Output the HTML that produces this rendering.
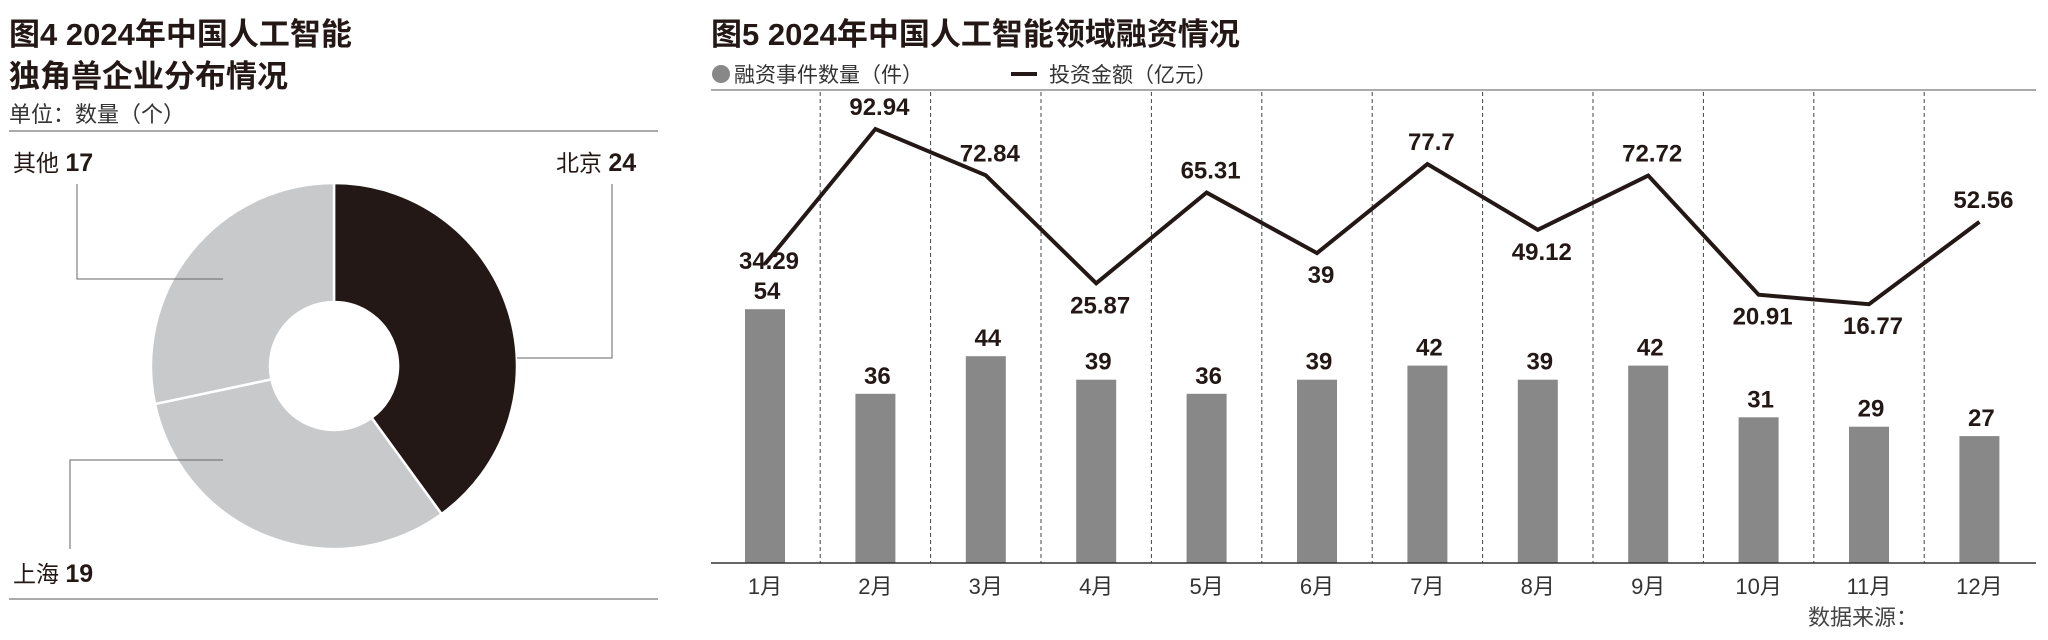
<!DOCTYPE html>
<html><head><meta charset="utf-8">
<style>
html,body{margin:0;padding:0;background:#fff;width:2048px;height:640px;overflow:hidden}
svg{display:block}
.cjk{font-family:"Liberation Sans","Noto Sans CJK SC",sans-serif}
.num{font-family:"Liberation Sans Narrow","Liberation Sans","Noto Sans CJK SC",sans-serif;font-weight:bold}
</style></head>
<body>
<svg id="svg" width="2048" height="640" viewBox="0 0 2048 640" xmlns="http://www.w3.org/2000/svg">
  <g>
    <text class="cjk" x="9" y="45" font-size="31" font-weight="bold" fill="#231815">图4 2024年中国人工智能</text>
    <text class="cjk" x="9" y="87" font-size="31" font-weight="bold" fill="#231815">独角兽企业分布情况</text>
    <text class="cjk" x="9" y="122" font-size="22" fill="#333">单位：数量（个）</text>
    <line x1="9" y1="131" x2="658" y2="131" stroke="#777" stroke-width="1.2"/>
    <line x1="9" y1="599" x2="658" y2="599" stroke="#777" stroke-width="1.2"/>
    <g id="donut"></g>
    <polyline points="517,358 612,358 612,184" fill="none" stroke="#666" stroke-width="1"/>
    <polyline points="223,279 77,279 77,184" fill="none" stroke="#666" stroke-width="1"/>
    <polyline points="223,460 70,460 70,549" fill="none" stroke="#666" stroke-width="1"/>
    <text x="556" y="171" font-size="23" fill="#231815"><tspan class="cjk">北京 </tspan><tspan class="num" font-size="25">24</tspan></text>
    <text x="13" y="171" font-size="23" fill="#231815"><tspan class="cjk">其他 </tspan><tspan class="num" font-size="25">17</tspan></text>
    <text x="13" y="582" font-size="23" fill="#231815"><tspan class="cjk">上海 </tspan><tspan class="num" font-size="25">19</tspan></text>
  </g>
  <g>
    <text class="cjk" x="711" y="45" font-size="31" font-weight="bold" fill="#231815">图5 2024年中国人工智能领域融资情况</text>
    <circle cx="721" cy="74" r="9" fill="#888"/>
    <text class="cjk" x="734" y="82" font-size="21" fill="#333">融资事件数量（件）</text>
    <line x1="1011" y1="74" x2="1037" y2="74" stroke="#231815" stroke-width="4"/>
    <text class="cjk" x="1049" y="82" font-size="21" fill="#333">投资金额（亿元）</text>
    <line x1="711" y1="90" x2="2036" y2="90" stroke="#777" stroke-width="1.2"/>
    <g id="chart"></g>
    <text class="cjk" x="1808" y="625" font-size="22" fill="#444">数据来源：</text>
  </g>
</svg>
<script>
const NS="http://www.w3.org/2000/svg";
// donut data
const donutLabels=["北京","上海","其他"];
const donutValues=[24,19,17];
// combo data
const months=["1月","2月","3月","4月","5月","6月","7月","8月","9月","10月","11月","12月"];
const dealCounts=[54,36,44,39,36,39,42,39,42,31,29,27];
const investAmounts=[34.29,92.94,72.84,25.87,65.31,39,77.7,49.12,72.72,20.91,16.77,52.56];
const amountLabels=["34.29","92.94","72.84","25.87","65.31","39","77.7","49.12","72.72","20.91","16.77","52.56"];
const labelAbove=[false,true,true,false,true,false,true,false,true,false,false,true];

function mk(tag,attrs,parent){const e=document.createElementNS(NS,tag);for(const k in attrs)e.setAttribute(k,attrs[k]);parent.appendChild(e);return e;}

(function(){
  const g=document.getElementById('donut');
  const cx=334,cy=366,R=183,r=64;
  const total=donutValues.reduce((a,b)=>a+b,0);
  const colors=["#231815","#c8c9cb","#c8c9cb"];
  let a0=-Math.PI/2;
  donutValues.forEach((v,i)=>{
    const a1=a0+v/total*Math.PI*2;
    const big=(a1-a0)>Math.PI?1:0;
    const p=(rad,a)=>[cx+rad*Math.cos(a),cy+rad*Math.sin(a)];
    const [x0,y0]=p(R,a0),[x1,y1]=p(R,a1),[x2,y2]=p(r,a1),[x3,y3]=p(r,a0);
    const d=`M${x0},${y0}A${R},${R} 0 ${big} 1 ${x1},${y1}L${x2},${y2}A${r},${r} 0 ${big} 0 ${x3},${y3}Z`;
    const el=mk('path',{d:d,fill:colors[i],stroke:"#fff","stroke-width":2.5},g);
    
    
    a0=a1;
  });
})();

(function(){
  const g=document.getElementById('chart');
  const x0=765,step=110.4,baseY=563,barW=40;
  const xAt=i=>x0+i*step;
  const yBar=v=>baseY-v*4.7;
  const yLine=v=>342.8-v*2.3;
  for(let i=0;i<months.length-1;i++){
    const x=xAt(i)+step/2;
    const l=mk('line',{x1:x,y1:92,x2:x,y2:563,stroke:"#444","stroke-width":1,"stroke-dasharray":"4,3"},g);
    
    
  }
  dealCounts.forEach((v,i)=>{
    const b=mk('rect',{x:xAt(i)-barW/2,y:yBar(v),width:barW,height:baseY-yBar(v),fill:"#888"},g);
    
    
    const t=mk('text',{x:xAt(i)+2,y:yBar(v)-10,"text-anchor":"middle","font-size":24,fill:"#231815",class:"num"},g);
    t.textContent=v;
    
    
  });
  const axis=mk('line',{x1:711,y1:baseY,x2:2036,y2:baseY,stroke:"#333","stroke-width":1.5},g);
  
  
  months.forEach((m,i)=>{
    const t=mk('text',{x:xAt(i),y:594,"text-anchor":"middle","font-size":22,fill:"#333",class:"cjk"},g);
    t.textContent=m;
    
    
  });
  const pts=investAmounts.map((v,i)=>xAt(i)+','+yLine(v)).join(' ');
  const pl=mk('polyline',{points:pts,fill:"none",stroke:"#231815","stroke-width":4,"stroke-linejoin":"miter"},g);
  
  
  investAmounts.forEach((v,i)=>{
    let y;
    if(labelAbove[i]) y=yLine(v)-14;
    else y=Math.min(yLine(v)+30, yBar(dealCounts[i])-40);
    const t=mk('text',{x:xAt(i)+4,y:y,"text-anchor":"middle","font-size":24,fill:"#231815",class:"num"},g);
    t.textContent=amountLabels[i];
    
    
  });
})();
</script>
</body></html>
